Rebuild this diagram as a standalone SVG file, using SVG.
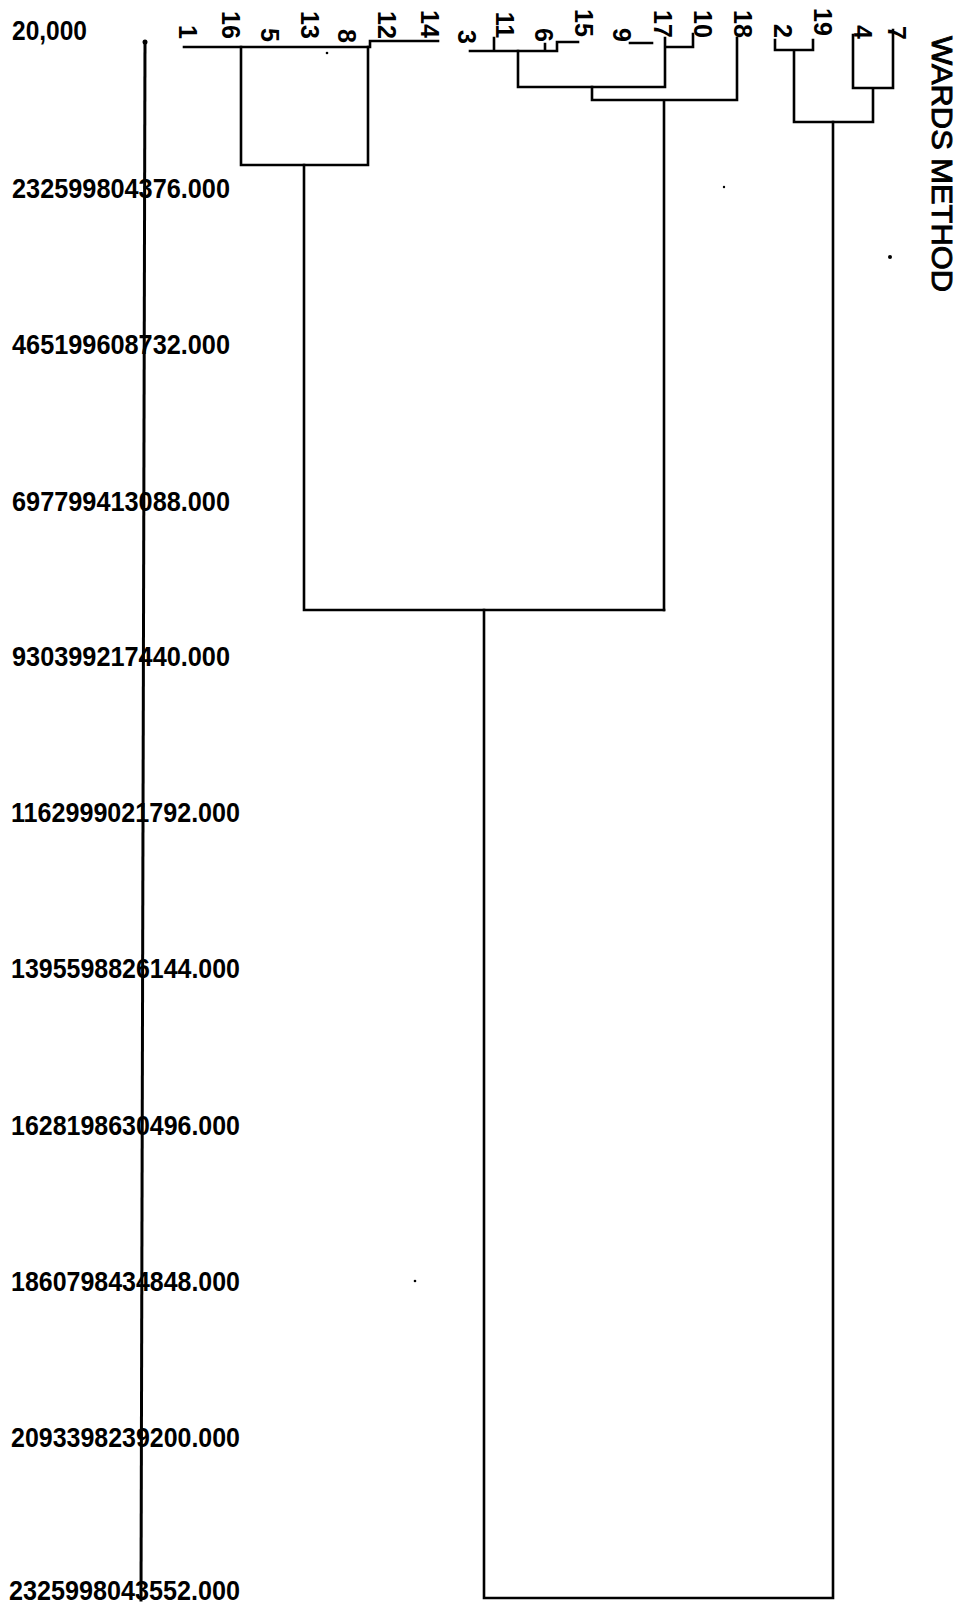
<svg xmlns="http://www.w3.org/2000/svg" width="961" height="1606" viewBox="0 0 961 1606">
<style>
.ln{stroke:#000;stroke-width:2.6;fill:none;stroke-linecap:square;stroke-linejoin:miter}
.tick{font-family:"Liberation Sans",Arial,sans-serif;font-weight:bold;font-size:27px;fill:#000}
.leaf{font-family:"Liberation Sans",Arial,sans-serif;font-weight:bold;font-size:25px;fill:#000;text-anchor:middle}
.title{font-family:"Liberation Sans",Arial,sans-serif;font-size:29px;fill:#000;stroke:#000;stroke-width:0.9}
</style>
<rect width="961" height="1606" fill="#fff"/>
<g id="axis">
<path class="ln" d="M145,42 L141,1600" style="stroke-width:3"/>
<circle cx="145" cy="42" r="2.5" fill="#000"/>
<text class="tick" x="12" y="40" textLength="75" lengthAdjust="spacingAndGlyphs">20,000</text>
<text class="tick" x="12" y="198" textLength="218" lengthAdjust="spacingAndGlyphs">232599804376.000</text>
<text class="tick" x="12" y="354" textLength="218" lengthAdjust="spacingAndGlyphs">465199608732.000</text>
<text class="tick" x="12" y="511" textLength="218" lengthAdjust="spacingAndGlyphs">697799413088.000</text>
<text class="tick" x="12" y="666" textLength="218" lengthAdjust="spacingAndGlyphs">930399217440.000</text>
<text class="tick" x="11" y="822" textLength="229" lengthAdjust="spacingAndGlyphs">1162999021792.000</text>
<text class="tick" x="11" y="978" textLength="229" lengthAdjust="spacingAndGlyphs">1395598826144.000</text>
<text class="tick" x="11" y="1135" textLength="229" lengthAdjust="spacingAndGlyphs">1628198630496.000</text>
<text class="tick" x="11" y="1291" textLength="229" lengthAdjust="spacingAndGlyphs">1860798434848.000</text>
<text class="tick" x="11" y="1447" textLength="229" lengthAdjust="spacingAndGlyphs">2093398239200.000</text>
<text class="tick" x="9" y="1600" textLength="231" lengthAdjust="spacingAndGlyphs">2325998043552.000</text>
</g>
<g id="leaves">
<text class="leaf" transform="translate(188,32) rotate(90)" y="9">1</text>
<text class="leaf" transform="translate(231,25) rotate(90)" y="9">16</text>
<text class="leaf" transform="translate(270,35) rotate(90)" y="9">5</text>
<text class="leaf" transform="translate(310,25) rotate(90)" y="9">13</text>
<text class="leaf" transform="translate(347,36) rotate(90)" y="9">8</text>
<text class="leaf" transform="translate(387,25) rotate(90)" y="9">12</text>
<text class="leaf" transform="translate(430,24) rotate(90)" y="9">14</text>
<text class="leaf" transform="translate(467,37) rotate(90)" y="9">3</text>
<text class="leaf" transform="translate(505,25) rotate(90)" y="9">11</text>
<text class="leaf" transform="translate(544,35) rotate(90)" y="9">6</text>
<text class="leaf" transform="translate(584,23) rotate(90)" y="9">15</text>
<text class="leaf" transform="translate(622,35) rotate(90)" y="9">9</text>
<text class="leaf" transform="translate(663,24) rotate(90)" y="9">17</text>
<text class="leaf" transform="translate(703,24) rotate(90)" y="9">10</text>
<text class="leaf" transform="translate(743,24) rotate(90)" y="9">18</text>
<text class="leaf" transform="translate(783,31) rotate(90)" y="9">2</text>
<text class="leaf" transform="translate(823,22) rotate(90)" y="9">19</text>
<text class="leaf" transform="translate(863,32) rotate(90)" y="9">4</text>
<text class="leaf" transform="translate(897,33) rotate(90)" y="9">7</text>
</g>
<g id="title">
<text class="title" transform="translate(932,36) rotate(90)" textLength="256" lengthAdjust="spacingAndGlyphs">WARDS METHOD</text>
</g>
<g id="connectors">
<path class="ln" d="M184,47 L370,47 M370,47 L370,41 L438,41"/>
<path class="ln" d="M241,47 L241,165 L368,165 L368,47"/>
<path class="ln" d="M304,165 L304,610 L664,610"/>
<path class="ln" d="M470,51 L557,51 M494,38 L494,51 M545,44 L545,51 M557,42 L557,51 M557,42 L578,42"/>
<path class="ln" d="M518,51 L518,87 L665,87 M665,38 L665,87 M630,43 L652,43 M665,47 L693,47 L693,34"/>
<path class="ln" d="M592,87 L592,100 L737,100 L737,38 M664,100 L664,610"/>
<path class="ln" d="M775,40 L775,50 L813,50 L813,40 M794,50 L794,122 L873,122 L873,88 M853,35 L853,88 L893,88 L893,30"/>
<path class="ln" d="M484,610 L484,1598 L833,1598 L833,122"/>
</g>
<g id="specks" fill="#000">
<circle cx="327" cy="53" r="1.3"/>
<circle cx="724" cy="187" r="1.2"/>
<circle cx="890" cy="257" r="2"/>
<circle cx="415" cy="1281" r="1.3"/>
</g>
</svg>
